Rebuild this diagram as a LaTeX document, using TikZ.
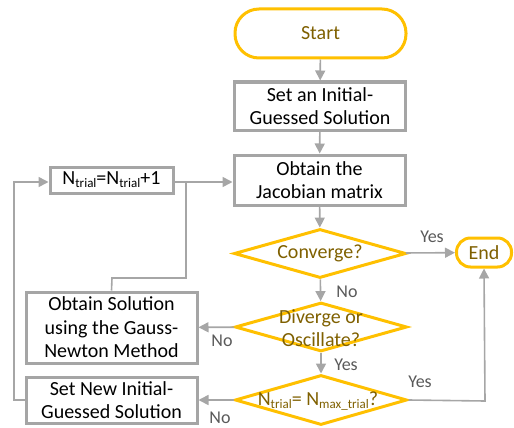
\documentclass[tikz,border=0pt]{standalone}
\usepackage{fontspec}
\setmainfont{Carlito}
\usetikzlibrary{arrows.meta,shapes.geometric}
\definecolor{gold}{HTML}{FFC000}
\definecolor{goldtext}{HTML}{7F6000}
\definecolor{boxgray}{HTML}{A5A5A5}
\definecolor{linegray}{HTML}{A6A6A6}
\definecolor{lblgray}{HTML}{595959}
\newcommand{\subtxt}[1]{\raisebox{-3pt}{\fontsize{13}{13}\selectfont #1}}
\tikzset{
  mainfont/.style={font=\fontsize{20}{23.5}\selectfont},
  terminal/.style={draw=gold, line width=3pt, rounded corners=#1, fill=white,
     text=goldtext, mainfont, inner sep=0pt, align=center},
  procbox/.style={draw=boxgray, line width=3pt, fill=white, text=black,
     mainfont, inner sep=0pt, align=center},
  decision/.style={draw=gold, line width=3pt, diamond, inner sep=0pt,
     minimum width=172pt, minimum height=49pt, aspect=3.5},
  dectext/.style={text=goldtext, mainfont, align=center, inner sep=0pt},
  conn/.style={draw=linegray, line width=1.6pt,
     -{Triangle[length=10pt,width=10pt]}},
  plainconn/.style={draw=linegray, line width=1.6pt},
  lbl/.style={text=lblgray, font=\fontsize{18}{18}\selectfont, inner sep=0pt}
}
\begin{document}
\begin{tikzpicture}[x=1pt,y=-1pt]
\useasboundingbox (0,0) rectangle (514,428);
\node[terminal=24pt, minimum width=171pt, minimum height=49pt] (start) at (320.5,33.5) {Start};
\node[procbox, minimum width=171pt, minimum height=48pt] (init) at (320,106) {Set an Initial-\\Guessed Solution};
\node[procbox, minimum width=171pt, minimum height=50pt] (jac) at (319.5,180) {Obtain the\\Jacobian matrix};
\node[decision] (conv) at (320,253.5) {};
\node[dectext] (convt) at (conv.center) {Converge?};
\node[terminal=14pt, minimum width=55pt, minimum height=29pt] (end) at (484,252.5) {End};
\node[decision] (div) at (321,327) {};
\node[dectext] (divt) at (321,328) {Diverge or\\Oscillate?};
\node[procbox, minimum width=171pt, minimum height=71pt] (gauss) at (111.5,327.5) {Obtain Solution\\using the Gauss-\\Newton Method};
\node[decision, minimum height=50pt] (ntr) at (321,400) {};
\node[dectext] (ntrt) at (318,401) {N\subtxt{trial}= N\subtxt{max\_trial}?};
\node[procbox, minimum width=171pt, minimum height=46pt] (setnew) at (111.5,400) {Set New Initial-\\Guessed Solution};
\node[procbox, minimum width=123pt, minimum height=26pt] (ninc) at (111.5,180) {N\subtxt{trial}=N\subtxt{trial}+1};
\coordinate (c1) at (14,400);
\coordinate (c2) at (14,182);
\coordinate (g1) at (112,278);
\coordinate (g2) at (186,278);
\coordinate (g3) at (186,182);
\coordinate (y1) at (485,401);
% connectors
\draw[conn] (start) -- (init);
\draw[conn] (init) -- (jac);
\draw[conn] (jac) -- (conv);
\draw[conn] (conv) -- (end);
\draw[conn] (conv) -- (div);
\draw[conn] (div) -- (gauss);
\draw[conn] (div) -- (ntr);
\draw[conn] (ntr) -- (setnew);
\draw[conn] (ntr.east) -- (y1) -- (end.south);
\draw[conn] (setnew.west) -- (c1) -- (c2) -- (ninc.west |- c2);
\draw[conn] (ninc.east |- c2) -- (jac.west |- c2);
\draw[plainconn] (gauss.north) -- (g1) -- (g2) -- (g3);
% labels
\node[lbl] (lyes1) at (432,237) {Yes};
\node[lbl] (lno1) at (347,292) {No};
\node[lbl] (lno2) at (222,341) {No};
\node[lbl] (lyes2) at (346,365) {Yes};
\node[lbl] (lyes3) at (420,382) {Yes};
\node[lbl] (lno3) at (220,418) {No};
\end{tikzpicture}
\end{document}
